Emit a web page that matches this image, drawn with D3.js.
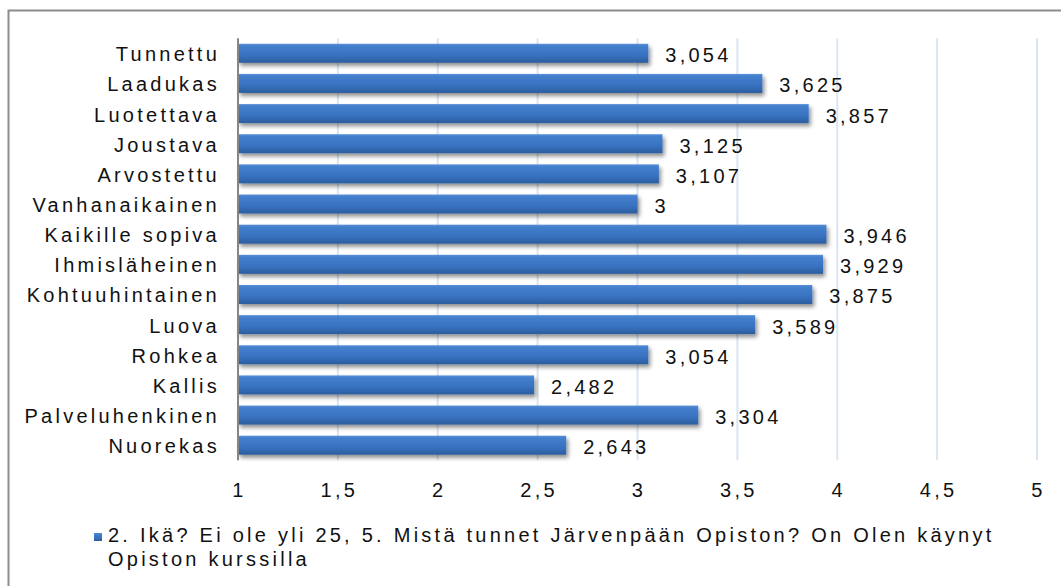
<!DOCTYPE html>
<html>
<head>
<meta charset="utf-8">
<script src="https://cdn.jsdelivr.net/npm/d3@7"></script>
<style>
  html, body { margin: 0; padding: 0; background: #fff; }
  svg { display: block; }
  text { font-family: "Liberation Sans", Arial, sans-serif; fill: #111; }
</style>
</head>
<body>
<svg id="chart" width="1061" height="586"></svg>
<script>
// Survey adjectives and their mean scores (scale 1–5)
const categories = [
  "Tunnettu", "Laadukas", "Luotettava", "Joustava", "Arvostettu",
  "Vanhanaikainen", "Kaikille sopiva", "Ihmisläheinen", "Kohtuuhintainen",
  "Luova", "Rohkea", "Kallis", "Palveluhenkinen", "Nuorekas"
];
const values = [
  3.054, 3.625, 3.857, 3.125, 3.107,
  3, 3.946, 3.929, 3.875,
  3.589, 3.054, 2.482, 3.304, 2.643
];
const xTicks = [1, 1.5, 2, 2.5, 3, 3.5, 4, 4.5, 5];
const seriesName = "2. Ikä? Ei ole yli 25, 5. Mistä tunnet Järvenpään Opiston? On Olen käynyt Opiston kurssilla";
const legendLines = [
  "2. Ikä? Ei ole yli 25, 5. Mistä tunnet Järvenpään Opiston? On Olen käynyt",
  "Opiston kurssilla"
];

const FONT = 20;
const SPACING = "3.25px";

const fi = d3.formatLocale({ decimal: ",", thousands: " ", grouping: [3], currency: ["", "€"] });
const fmt = v => fi.format("~r")(v);

const svg = d3.select("#chart");

// gradient and shadow for the bars
const defs = svg.append("defs");
const grad = defs.append("linearGradient")
  .attr("id", "barGrad").attr("x1", 0).attr("y1", 0).attr("x2", 0).attr("y2", 1);
grad.append("stop").attr("offset", "0%").attr("stop-color", "#5a90d8");
grad.append("stop").attr("offset", "12%").attr("stop-color", "#437fcd");
grad.append("stop").attr("offset", "60%").attr("stop-color", "#3872c0");
grad.append("stop").attr("offset", "100%").attr("stop-color", "#2c5d9e");

const shadow = defs.append("filter").attr("id", "barShadow")
  .attr("x", "-5%").attr("y", "-30%").attr("width", "115%").attr("height", "180%");
shadow.append("feGaussianBlur").attr("in", "SourceAlpha").attr("stdDeviation", 2.2).attr("result", "b");
shadow.append("feOffset").attr("in", "b").attr("dx", 2).attr("dy", 3).attr("result", "o");
shadow.append("feComponentTransfer").attr("in", "o").attr("result", "s")
  .append("feFuncA").attr("type", "linear").attr("slope", 0.45);
const merge = shadow.append("feMerge");
merge.append("feMergeNode").attr("in", "s");
merge.append("feMergeNode").attr("in", "SourceGraphic");

// outer frame
svg.append("rect")
  .attr("x", 8.5).attr("y", 10.5).attr("width", 1100).attr("height", 600)
  .attr("fill", "#fff").attr("stroke", "#8c8c8c").attr("stroke-width", 2);

const plot = { left: 238, right: 1037, top: 38.2, bottom: 460.3 };

const x = d3.scaleLinear().domain([1, 5]).range([plot.left, plot.right]);
const y = d3.scaleBand().domain(categories).range([plot.top, plot.bottom])
  .paddingInner(0.37).paddingOuter(0.185);

// vertical gridlines
svg.append("g")
  .selectAll("line")
  .data(xTicks.slice(1))
  .join("line")
  .attr("x1", d => x(d)).attr("x2", d => x(d))
  .attr("y1", plot.top).attr("y2", plot.bottom)
  .attr("stroke", "#dbe5f1").attr("stroke-width", 2);

// bars
svg.append("g")
  .selectAll("rect")
  .data(categories)
  .join("rect")
  .attr("x", x(1))
  .attr("y", d => y(d))
  .attr("width", (d, i) => x(values[i]) - x(1))
  .attr("height", y.bandwidth())
  .attr("fill", "url(#barGrad)")
  .attr("filter", "url(#barShadow)");

// value axis line
svg.append("line")
  .attr("x1", plot.left).attr("x2", plot.left)
  .attr("y1", plot.top).attr("y2", plot.bottom)
  .attr("stroke", "#868686").attr("stroke-width", 2);

// category labels
svg.append("g")
  .selectAll("text")
  .data(categories)
  .join("text")
  .attr("x", plot.left - 18)
  .attr("y", d => y(d) + y.bandwidth() / 2 + 8)
  .attr("text-anchor", "end")
  .attr("font-size", FONT)
  .attr("letter-spacing", SPACING)
  .text(d => d);

// value labels
svg.append("g")
  .selectAll("text")
  .data(categories)
  .join("text")
  .attr("x", (d, i) => x(values[i]) + 17)
  .attr("y", d => y(d) + y.bandwidth() / 2 + 9)
  .attr("font-size", FONT)
  .attr("letter-spacing", SPACING)
  .text((d, i) => fmt(values[i]));

// x tick labels
svg.append("g")
  .selectAll("text")
  .data(xTicks)
  .join("text")
  .attr("x", d => x(d) + 1.5)
  .attr("y", 497)
  .attr("text-anchor", "middle")
  .attr("font-size", FONT)
  .attr("letter-spacing", SPACING)
  .text(d => fmt(d));

// legend
const legend = svg.append("g").attr("aria-label", seriesName);
legend.append("rect")
  .attr("x", 94).attr("y", 533).attr("width", 8).attr("height", 8)
  .attr("fill", "url(#barGrad)");
legend.selectAll("text")
  .data(legendLines)
  .join("text")
  .attr("x", 108)
  .attr("y", (d, i) => 541.5 + i * 24.5)
  .attr("font-size", FONT)
  .attr("letter-spacing", SPACING)
  .text(d => d);
</script>
</body>
</html>
